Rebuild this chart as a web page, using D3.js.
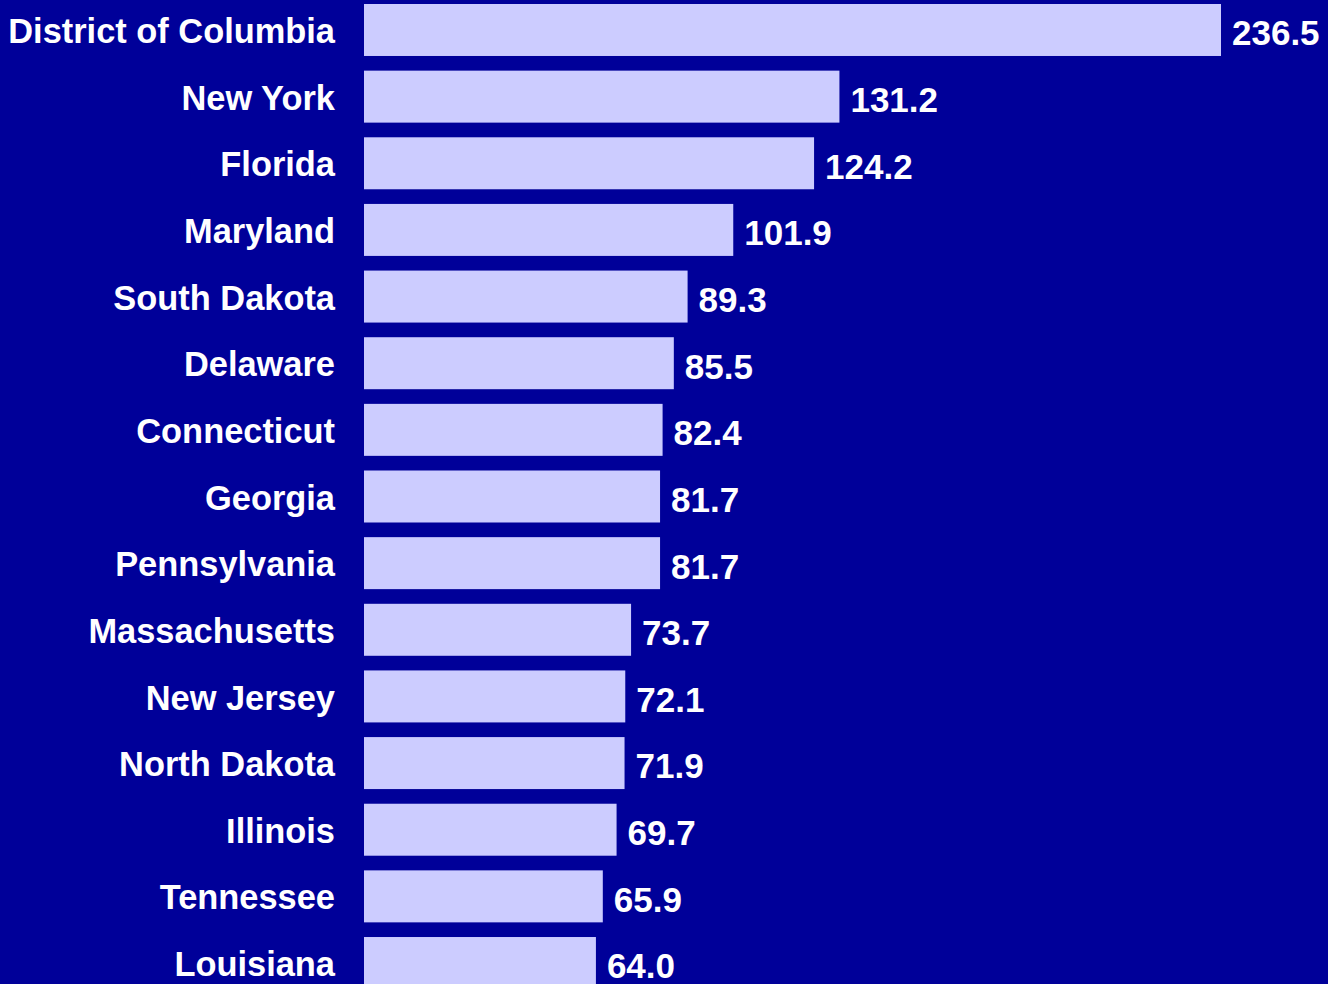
<!DOCTYPE html>
<html lang="en">
<head>
<meta charset="UTF-8">
<title>States bar chart</title>
<script src="https://d3js.org/d3.v7.min.js"></script>
<style>
    body { margin: 0; background: #000099; overflow: hidden; }
    svg { display: block; }
    .label, .value {
        fill: #ffffff;
        font-family: "Liberation Sans", Arial, sans-serif;
        font-weight: bold;
        font-size: 35px;
    }
    .label { font-size: 34.4px; }
    .bar { fill: #ccccff; }
</style>
</head>
<body>
<svg width="1328" height="984"></svg>
<script>
    // Data
    const states = ["District of Columbia", "New York", "Florida", "Maryland", "South Dakota",
                    "Delaware", "Connecticut", "Georgia", "Pennsylvania", "Massachusetts",
                    "New Jersey", "North Dakota", "Illinois", "Tennessee", "Louisiana"];
    const values = [236.5, 131.2, 124.2, 101.9, 89.3, 85.5, 82.4, 81.7, 81.7, 73.7,
                    72.1, 71.9, 69.7, 65.9, 64.0];

    const data = states.map((s, i) => ({ state: s, value: values[i] }));

    const svg = d3.select("svg");
    const barLeft = 364;

    const x = d3.scaleLinear()
        .domain([0, 236.5])
        .range([barLeft, 1221]);

    const y = d3.scaleBand()
        .domain(states)
        .range([4, 989])
        .paddingInner(0.22)
        .paddingOuter(0);

    // Bars
    svg.selectAll(".bar")
       .data(data)
       .enter().append("rect")
       .attr("class", "bar")
       .attr("x", x(0))
       .attr("y", d => y(d.state))
       .attr("width", d => x(d.value) - x(0))
       .attr("height", y.bandwidth());

    // Category labels on the left
    svg.selectAll(".label")
       .data(data)
       .enter().append("text")
       .attr("class", "label")
       .attr("x", 335)
       .attr("y", d => y(d.state) + y.bandwidth() / 2)
       .attr("dy", "0.38em")
       .style("text-anchor", "end")
       .text(d => d.state);

    // Value labels at the bar ends
    svg.selectAll(".value")
       .data(data)
       .enter().append("text")
       .attr("class", "value")
       .attr("x", d => x(d.value) + 11)
       .attr("y", d => y(d.state) + y.bandwidth() / 2)
       .attr("dy", "0.44em")
       .text(d => d.value.toFixed(1));
</script>
</body>
</html>
